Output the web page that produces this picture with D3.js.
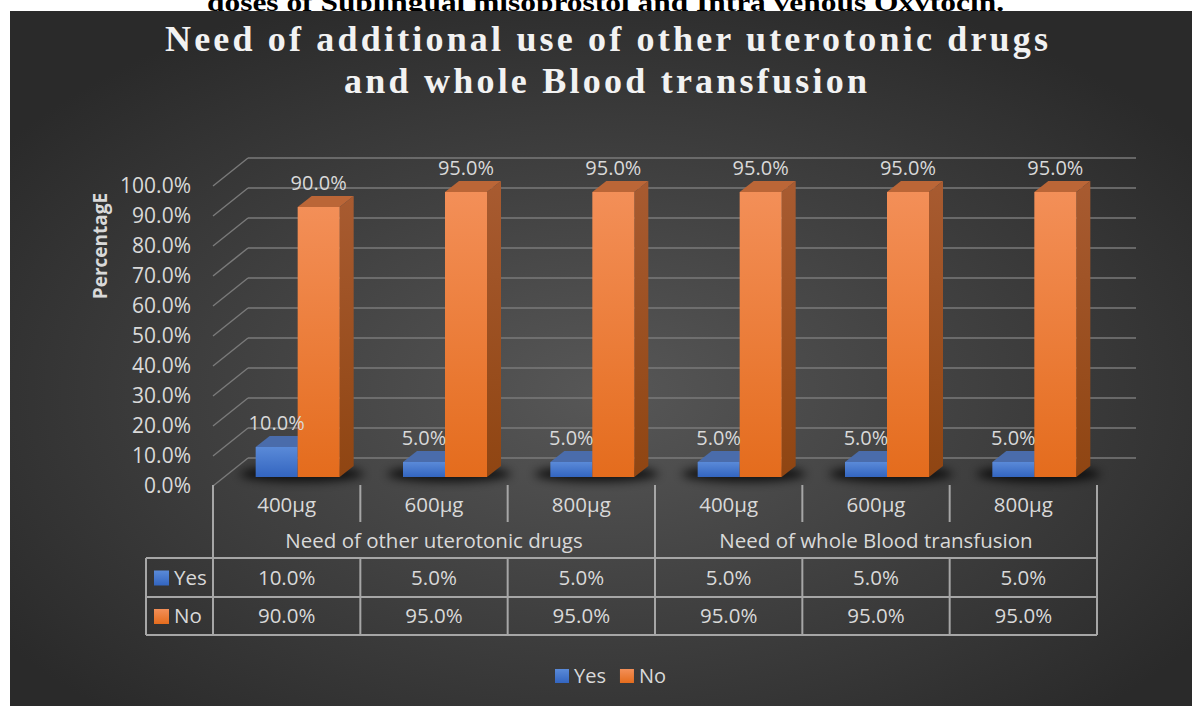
<!DOCTYPE html>
<html>
<head>
<meta charset="utf-8">
<script src="https://cdn.jsdelivr.net/npm/d3@7"></script>
<style>
  body { margin: 0; background: #ffffff; }
  svg { display: block; }
</style>
</head>
<body>
<div id="chart"></div>
<script>
// chart data
var categories = ["400µg", "600µg", "800µg", "400µg", "600µg", "800µg"];
var groups = ["Need of other uterotonic drugs", "Need of whole Blood transfusion"];
var series = ["Yes", "No"];
var yesValues = [10, 5, 5, 5, 5, 5];
var noValues = [90, 95, 95, 95, 95, 95];
var yTickValues = [0, 10, 20, 30, 40, 50, 60, 70, 80, 90, 100];

var svgWidth = 1192;
var svgHeight = 706;
var txt = "#d9d9d9";
var font = "'Open Sans', 'DejaVu Sans', sans-serif";

var svg = d3.select("#chart")
  .append("svg")
  .attr("width", svgWidth)
  .attr("height", svgHeight);

var defs = svg.append("defs");

var bg = defs.append("radialGradient").attr("id", "bg")
  .attr("cx", "50%").attr("cy", "55%").attr("r", "62%");
bg.append("stop").attr("offset", "0%").attr("stop-color", "#575757");
bg.append("stop").attr("offset", "100%").attr("stop-color", "#2a2a2a");

function vGrad(id, top, bottom) {
  var g = defs.append("linearGradient").attr("id", id)
    .attr("x1", 0).attr("y1", 0).attr("x2", 0).attr("y2", 1);
  g.append("stop").attr("offset", "0%").attr("stop-color", top);
  g.append("stop").attr("offset", "100%").attr("stop-color", bottom);
}
vGrad("yesFront", "#5a8ad8", "#3365c0");
vGrad("noFront", "#f38f58", "#e46c1d");
vGrad("noSide", "#a85b31", "#8f4512");
vGrad("yesSide", "#3e62a8", "#2a4f94");

defs.append("filter").attr("id", "blur")
  .attr("x", "-50%").attr("y", "-200%").attr("width", "200%").attr("height", "500%")
  .append("feGaussianBlur").attr("stdDeviation", 5);

// top strip with cut-off caption, then chart area
svg.append("text")
  .attr("x", 207).attr("y", 11)
  .attr("textLength", 797)
  .attr("lengthAdjust", "spacingAndGlyphs")
  .style("font-family", "'Liberation Serif', 'Times New Roman', serif")
  .style("font-weight", "bold")
  .style("font-size", "26px")
  .attr("fill", "#000")
  .text("doses of Sublingual misoprostol and Intra venous Oxytocin.");

svg.append("rect")
  .attr("x", 10).attr("y", 11)
  .attr("width", svgWidth - 10).attr("height", svgHeight - 11)
  .attr("fill", "url(#bg)");

// title
var titleLines = ["Need of additional use of other uterotonic drugs", "and whole Blood transfusion"];
var titleX = [[165, 1048], [344, 867]];
var titleY = [51, 93];
titleLines.forEach(function(t, i) {
  svg.append("text")
    .attr("x", titleX[i][0]).attr("y", titleY[i])
    .attr("textLength", titleX[i][1] - titleX[i][0])
    .attr("lengthAdjust", "spacing")
    .style("font-family", "'Liberation Serif', 'Times New Roman', serif")
    .style("font-weight", "bold")
    .style("font-size", "36px")
    .attr("fill", "#f2f2f2")
    .text(t);
});

// scales
var idx = d3.range(categories.length);
var x0 = d3.scaleBand().domain(idx).range([213, 1097]).padding(0);
var x1 = d3.scaleBand().domain(series).range([0, x0.bandwidth()])
  .paddingInner(0).paddingOuter(0.754);
var yFront = d3.scaleLinear().domain([0, 100]).range([486, 186]);
var yBack = d3.scaleLinear().domain([0, 100]).range([458, 158]);
var yBar = d3.scaleLinear().domain([0, 100]).range([477, 177]);

var depthX = 35;
var barShift = 11;
var barDx = 14, barDy = -11;

// back wall + left wall grid lines
var grid = svg.append("g").attr("stroke", "#7a7a7a").attr("stroke-width", 1.5);
grid.selectAll(".h").data(yTickValues).enter().append("line")
  .attr("x1", 213 + depthX).attr("x2", 1136)
  .attr("y1", d => yBack(d)).attr("y2", d => yBack(d));
grid.selectAll(".d").data(yTickValues).enter().append("line")
  .attr("x1", 213).attr("x2", 213 + depthX)
  .attr("y1", d => yFront(d)).attr("y2", d => yBack(d));

// y axis labels
var yAxis = d3.axisLeft(yFront)
  .tickValues(yTickValues)
  .tickSize(0)
  .tickPadding(0)
  .tickFormat(d => d.toFixed(1) + "%");
var yg = svg.append("g").attr("transform", "translate(191,0)").call(yAxis);
yg.select(".domain").remove();
yg.selectAll("text")
  .attr("fill", txt)
  .style("font-family", font)
  .style("font-size", "21px");

svg.append("text")
  .attr("transform", "translate(107,246) rotate(-90)")
  .attr("text-anchor", "middle")
  .attr("fill", txt)
  .style("font-family", font)
  .style("font-weight", "bold")
  .style("font-size", "19px")
  .text("PercentagE");

// shadows under bars
svg.append("g").selectAll("ellipse").data(idx).enter().append("ellipse")
  .attr("cx", d => x0(d) + barShift + x0.bandwidth() / 2 + 4)
  .attr("cy", 474)
  .attr("rx", 62).attr("ry", 8)
  .attr("fill", "#000").attr("opacity", 0.75)
  .attr("filter", "url(#blur)");

// bars
var barData = [];
idx.forEach(function(i) {
  barData.push({ i: i, s: "Yes", v: yesValues[i] });
  barData.push({ i: i, s: "No", v: noValues[i] });
});

var bars = svg.append("g").selectAll("g").data(barData).enter().append("g");
bars.each(function(d) {
  var g = d3.select(this);
  var xl = x0(d.i) + barShift + x1(d.s);
  var w = x1.bandwidth();
  var yt = yBar(d.v);
  var yb = yBar(0);
  var yes = d.s === "Yes";
  g.append("path")
    .attr("d", `M${xl + w},${yb} L${xl + w + barDx},${yb + barDy} L${xl + w + barDx},${yt + barDy} L${xl + w},${yt} Z`)
    .attr("fill", yes ? "url(#yesSide)" : "url(#noSide)");
  g.append("path")
    .attr("d", `M${xl},${yt} L${xl + barDx},${yt + barDy} L${xl + w + barDx},${yt + barDy} L${xl + w},${yt} Z`)
    .attr("fill", yes ? "#4a6cab" : "#bb6637");
  g.append("rect")
    .attr("x", xl).attr("y", yt)
    .attr("width", w).attr("height", yb - yt)
    .attr("fill", yes ? "url(#yesFront)" : "url(#noFront)");
});

// data labels
svg.append("g").selectAll("text").data(barData).enter().append("text")
  .attr("x", d => x0(d.i) + barShift + x1(d.s) + x1.bandwidth() / 2)
  .attr("y", d => yBar(d.v) + barDy - 13)
  .attr("dy", "0.35em")
  .attr("text-anchor", "middle")
  .attr("fill", txt)
  .style("font-family", font)
  .style("font-size", "20px")
  .text(d => d.v.toFixed(1) + "%");

// data table
var rowTop = 485, rowCat = 522, rowGrp = 558, rowYes = 597, rowNo = 635;
var keyLeft = 146;
var tbl = svg.append("g").attr("stroke", "#a6a6a6").attr("stroke-width", 2);
[rowGrp, rowYes, rowNo].forEach(function(y) {
  tbl.append("line").attr("x1", keyLeft).attr("x2", 1097).attr("y1", y).attr("y2", y);
});
tbl.append("line").attr("x1", keyLeft).attr("x2", keyLeft).attr("y1", rowGrp).attr("y2", rowNo);
idx.concat([categories.length]).forEach(function(i) {
  var xv = i < categories.length ? x0(i) : x0.range()[1];
  if (i % 3 === 0) {
    tbl.append("line").attr("x1", xv).attr("x2", xv).attr("y1", rowTop).attr("y2", rowNo);
  } else {
    tbl.append("line").attr("x1", xv).attr("x2", xv).attr("y1", rowTop).attr("y2", rowCat);
    tbl.append("line").attr("x1", xv).attr("x2", xv).attr("y1", rowGrp).attr("y2", rowNo);
  }
});

function cellText(xc, yc, s) {
  svg.append("text")
    .attr("x", xc).attr("y", yc).attr("dy", "0.35em")
    .attr("text-anchor", "middle")
    .attr("fill", txt)
    .style("font-family", font)
    .style("font-size", "20.5px")
    .text(s);
}
idx.forEach(function(i) {
  var xc = x0(i) + x0.bandwidth() / 2;
  cellText(xc, (rowTop + rowCat) / 2 + 1, categories[i]);
  cellText(xc, (rowGrp + rowYes) / 2, yesValues[i].toFixed(1) + "%");
  cellText(xc, (rowYes + rowNo) / 2, noValues[i].toFixed(1) + "%");
});
groups.forEach(function(gname, gi) {
  var xc = (x0(gi * 3) + x0(gi * 3 + 2) + x0.bandwidth()) / 2;
  cellText(xc, (rowCat + rowGrp) / 2 + 1, gname);
});

// legend keys in the table
var keyColors = { Yes: "url(#yesFront)", No: "url(#noFront)" };
[["Yes", (rowGrp + rowYes) / 2], ["No", (rowYes + rowNo) / 2]].forEach(function(k) {
  svg.append("rect")
    .attr("x", 154).attr("y", k[1] - 7).attr("width", 15).attr("height", 15)
    .attr("fill", keyColors[k[0]]);
  svg.append("text")
    .attr("x", 174).attr("y", k[1]).attr("dy", "0.35em")
    .attr("fill", txt)
    .style("font-family", font)
    .style("font-size", "20.5px")
    .text(k[0]);
});

// bottom legend
var legend = svg.append("g").attr("transform", "translate(555,676)");
var lx = 0;
series.forEach(function(s) {
  legend.append("rect")
    .attr("x", lx).attr("y", -7).attr("width", 14).attr("height", 14)
    .attr("fill", keyColors[s]);
  var t = legend.append("text")
    .attr("x", lx + 19).attr("y", 0).attr("dy", "0.35em")
    .attr("fill", txt)
    .style("font-family", font)
    .style("font-size", "20px")
    .text(s);
  lx += 19 + t.node().getComputedTextLength() + 14;
});
</script>
</body>
</html>
